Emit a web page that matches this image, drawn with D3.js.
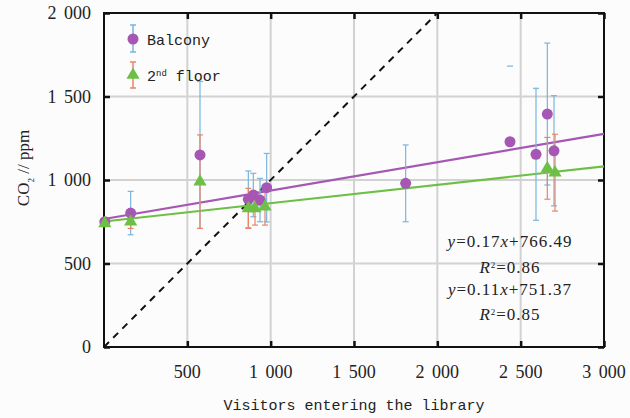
<!DOCTYPE html>
<html>
<head>
<meta charset="utf-8">
<script src="https://cdn.jsdelivr.net/npm/d3@7"></script>
<style>
  body { margin: 0; background: #fcfcfc; }
  svg text { fill: #222; }
</style>
</head>
<body>
<div id="chart"></div>
<script>
// chart values
var xTicks = [500, 1000, 1500, 2000, 2500, 3000]
var yTicks = [0, 500, 1000, 1500, 2000]

var balconyX   = [5, 160, 576, 866, 896, 936, 976, 1810, 2436, 2592, 2660, 2700]
var balconyY   = [750, 802, 1150, 884, 910, 880, 954, 980, 1229, 1154, 1395, 1175]
var balconyErr = [0, 130, 440, 170, 130, 130, 205, 230, 453, 395, 425, 330]

var floorX   = [5, 160, 576, 866, 906, 966, 2660, 2706]
var floorY   = [740, 750, 990, 830, 830, 840, 1070, 1044]
var floorErr = [0, 40, 280, 120, 100, 110, 185, 230]

// fitted lines: slope, intercept
var balconyFit = [0.17, 766.49]
var floorFit = [0.11, 751.37]

var width = 630, height = 418
var pLeft = 104, pRight = 604, pTop = 13, pBottom = 347

var svg = d3.select("#chart").append("svg")
    .attr("width", width)
    .attr("height", height)

var x = d3.scaleLinear().domain([0, 3000]).range([pLeft, pRight])
var y = d3.scaleLinear().domain([0, 2000]).range([pBottom, pTop])

var fmt = d3.formatLocale({ decimal: ".", thousands: " ", grouping: [3], currency: ["", ""] }).format(",")

var purple = "#a557b3", green = "#6dbf45", blue = "#78b5df", orange = "#ea8466"

// grid
svg.append("g").selectAll("line").data(xTicks.slice(0, -1)).enter().append("line")
    .attr("x1", d => x(d)).attr("x2", d => x(d))
    .attr("y1", pTop).attr("y2", pBottom)
    .attr("stroke", "#d2d2d2").attr("stroke-width", 2)
svg.append("g").selectAll("line").data(yTicks.slice(1, -1)).enter().append("line")
    .attr("x1", pLeft).attr("x2", pRight)
    .attr("y1", d => y(d)).attr("y2", d => y(d))
    .attr("stroke", "#d2d2d2").attr("stroke-width", 2)

// axes, ticks pointing inward
var tick = 6
svg.append("g").attr("transform", "translate(0," + pBottom + ")")
    .call(d3.axisBottom(x).tickValues(xTicks).tickSize(-tick).tickFormat(""))
svg.append("g").attr("transform", "translate(0," + pTop + ")")
    .call(d3.axisTop(x).tickValues(xTicks).tickSize(-tick).tickFormat(""))
svg.append("g").attr("transform", "translate(" + pLeft + ",0)")
    .call(d3.axisLeft(y).tickValues(yTicks).tickSize(-tick).tickFormat(""))
svg.append("g").attr("transform", "translate(" + pRight + ",0)")
    .call(d3.axisRight(y).tickValues(yTicks).tickSize(-tick).tickFormat(""))
svg.selectAll(".domain").remove()
svg.selectAll(".tick line").attr("stroke", "#111").attr("stroke-width", 2.5)

svg.append("rect")
    .attr("x", pLeft).attr("y", pTop)
    .attr("width", pRight - pLeft).attr("height", pBottom - pTop)
    .attr("fill", "none").attr("stroke", "#111").attr("stroke-width", 2)

// tick labels
svg.append("g").selectAll("text").data(xTicks).enter().append("text")
    .attr("x", d => x(d)).attr("y", 378)
    .attr("text-anchor", "middle")
    .style("font-family", "Liberation Serif").style("font-size", "18px")
    .style("word-spacing", "3px")
    .text(d => fmt(d))
svg.append("g").selectAll("text").data(yTicks).enter().append("text")
    .attr("x", 91).attr("y", d => y(d) + 6)
    .attr("text-anchor", "end")
    .style("font-family", "Liberation Serif").style("font-size", "18px")
    .style("word-spacing", "3px")
    .text(d => fmt(d))

// axis titles
svg.append("text")
    .attr("x", 354).attr("y", 410)
    .attr("text-anchor", "middle")
    .style("font-family", "Liberation Mono").style("font-size", "15px")
    .text("Visitors entering the library")

var yt = svg.append("text")
    .attr("transform", "translate(29,168) rotate(-90)")
    .attr("text-anchor", "middle")
    .style("font-family", "Liberation Serif").style("font-size", "17px")
yt.append("tspan").text("CO")
yt.append("tspan").attr("baseline-shift", "sub").style("font-size", "9px").text("2")
yt.append("tspan").text(" // ppm")

// y = x reference
svg.append("line")
    .attr("x1", x(0)).attr("y1", y(0))
    .attr("x2", x(2000)).attr("y2", y(2000))
    .attr("stroke", "#111").attr("stroke-width", 2)
    .attr("stroke-dasharray", "7,6")

// fitted lines
function fitLine(fit, color) {
    svg.append("line")
        .attr("x1", x(0)).attr("y1", y(fit[1]))
        .attr("x2", x(3000)).attr("y2", y(fit[0] * 3000 + fit[1]))
        .attr("stroke", color).attr("stroke-width", 2.2)
}
fitLine(balconyFit, purple)
fitLine(floorFit, green)

// error bars
function errorBars(xs, ys, es, color) {
    var rows = xs.map((d, i) => ({ x: d, y: ys[i], e: es[i], i: i })).filter(d => d.e > 0)
    var g = svg.append("g").attr("stroke", color).attr("stroke-width", 1.2)
    g.selectAll(".v").data(rows).enter().append("line")
        .attr("x1", d => x(d.x)).attr("x2", d => x(d.x))
        .attr("y1", d => y(d.y + d.e)).attr("y2", d => y(d.y - d.e))
    g.selectAll(".t").data(rows).enter().append("line")
        .attr("x1", d => x(d.x) - 3).attr("x2", d => x(d.x) + 3)
        .attr("y1", d => y(d.y + d.e)).attr("y2", d => y(d.y + d.e))
    g.selectAll(".b").data(rows).enter().append("line")
        .attr("x1", d => x(d.x) - 3).attr("x2", d => x(d.x) + 3)
        .attr("y1", d => y(d.y - d.e)).attr("y2", d => y(d.y - d.e))
    return g
}
var balconyBars = errorBars(balconyX, balconyY, balconyErr, blue)
errorBars(floorX, floorY, floorErr, orange)
// in the original only the top cap of the x≈2436 bar shows
balconyBars.selectAll("line").filter(function (d) {
    return d.x === 2436 && !(this.getAttribute("y1") === this.getAttribute("y2") && +this.getAttribute("y1") === y(d.y + d.e))
}).remove()

// points
svg.append("g").selectAll("circle").data(balconyX).enter().append("circle")
    .attr("cx", d => x(d)).attr("cy", (d, i) => y(balconyY[i]))
    .attr("r", 5.5).attr("fill", purple)

var tri = d3.symbol().type(d3.symbolTriangle).size(75)
svg.append("g").selectAll("path").data(floorX).enter().append("path")
    .attr("d", tri)
    .attr("transform", (d, i) => "translate(" + x(d) + "," + y(floorY[i]) + ")")
    .attr("fill", green)

// legend
var lg = svg.append("g")
function legendBar(cx, y1, y2, color) {
    lg.append("line").attr("x1", cx).attr("x2", cx).attr("y1", y1).attr("y2", y2)
        .attr("stroke", color).attr("stroke-width", 1.5)
    lg.append("line").attr("x1", cx - 3).attr("x2", cx + 3).attr("y1", y1).attr("y2", y1)
        .attr("stroke", color).attr("stroke-width", 1.5)
    lg.append("line").attr("x1", cx - 3).attr("x2", cx + 3).attr("y1", y2).attr("y2", y2)
        .attr("stroke", color).attr("stroke-width", 1.5)
}
legendBar(133, 25, 52, blue)
lg.append("circle").attr("cx", 133).attr("cy", 39).attr("r", 5.5).attr("fill", purple)
lg.append("text").attr("x", 147).attr("y", 45)
    .style("font-family", "Liberation Mono").style("font-size", "15px")
    .text("Balcony")
legendBar(133, 62, 88, orange)
lg.append("path").attr("d", tri).attr("transform", "translate(133,75)").attr("fill", green)
var l2 = lg.append("text").attr("x", 147).attr("y", 81)
    .style("font-family", "Liberation Mono").style("font-size", "15px")
l2.append("tspan").text("2")
l2.append("tspan").attr("baseline-shift", "super").style("font-size", "9px").text("nd")
l2.append("tspan").text(" floor")

// equations
function equation(fit, r2, yEq, yR) {
    var t = svg.append("text").attr("x", 510).attr("y", yEq)
        .attr("text-anchor", "middle")
        .style("font-family", "Liberation Serif").style("font-size", "17px")
        .style("letter-spacing", "1px")
    t.append("tspan").style("font-style", "italic").text("y")
    t.append("tspan").text("=" + fit[0].toFixed(2))
    t.append("tspan").style("font-style", "italic").text("x")
    t.append("tspan").text("+" + fit[1].toFixed(2))
    var r = svg.append("text").attr("x", 510).attr("y", yR)
        .attr("text-anchor", "middle")
        .style("font-family", "Liberation Serif").style("font-size", "17px")
        .style("letter-spacing", "1px")
    r.append("tspan").style("font-style", "italic").text("R")
    r.append("tspan").attr("baseline-shift", "super").style("font-size", "9px").text("2")
    r.append("tspan").text("=" + r2.toFixed(2))
}
equation(balconyFit, 0.86, 247, 273)
equation(floorFit, 0.85, 295, 320)
</script>
</body>
</html>
